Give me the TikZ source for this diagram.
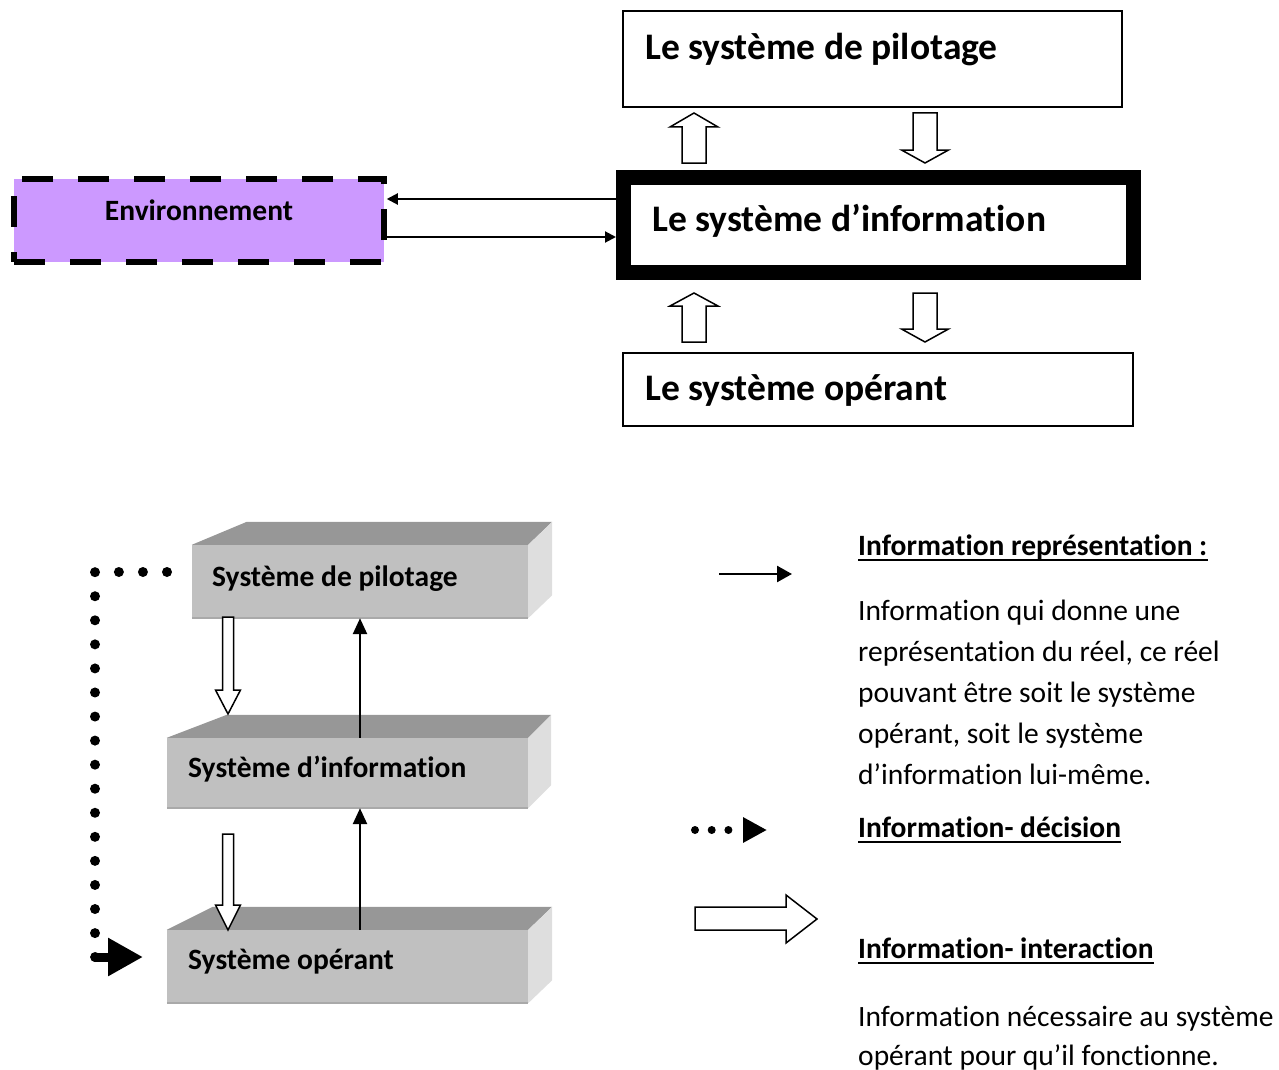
\documentclass[tikz,border=0pt]{standalone}
\usepackage{fontspec}
\setmainfont{Carlito}[Ligatures=NoCommon]
\usetikzlibrary{arrows.meta,calc}
\definecolor{envfill}{HTML}{CC99FF}
\definecolor{facefront}{HTML}{C0C0C0}
\definecolor{facetop}{HTML}{979797}
\definecolor{faceside}{HTML}{DEDEDE}
\definecolor{faceedge}{HTML}{A9A9A9}

% vertical block arrow: x, base y, head-base y, tip y, shaft half width, head half width
\newcommand\blockarrowv[6]{%
  \draw[hollow] ({#1-#5},#2) -- ({#1-#5},#3) -- ({#1-#6},#3) -- (#1,#4)
    -- ({#1+#6},#3) -- ({#1+#5},#3) -- ({#1+#5},#2) -- cycle;}

% top and right faces of a box whose front face is node #1
% #2 = left depth offset, #3 = right depth offset, #4 = rise
\newcommand\boxfaces[4]{%
  \fill[facetop] (#1.north west) -- ++(#2,-#4) -- ($(#1.north east)+(#3,-#4)$)
    -- (#1.north east) -- cycle;
  \fill[faceside] (#1.north east) -- ++(#3,-#4) -- ($(#1.south east)+(#3,-#4)$)
    -- (#1.south east) -- cycle;
  \draw[faceedge, line width=1.5pt] (#1.south west) -- (#1.south east);}

\begin{document}
\begin{tikzpicture}[x=1pt,y=-1pt,
  txt/.style={inner sep=0pt, anchor=base west},
  bigtxt/.style={txt, font=\bfseries\fontsize{37.5}{45}\selectfont},
  cubetxt/.style={txt, font=\bfseries\fontsize{29.5}{35}\selectfont},
  legtitle/.style={txt, font=\bfseries\fontsize{29.5}{35}\selectfont},
  legtxt/.style={txt, font=\fontsize{29.5}{35}\selectfont},
  sysbox/.style={draw, line width=1.5pt, fill=white, inner sep=0pt},
  frontface/.style={fill=facefront, inner sep=0pt},
  hollow/.style={draw, fill=white, line width=1.5pt, line join=miter},
  thinarrow/.style={line width=2pt, -{Triangle[length=11pt,width=11pt]}},
  cubearrow/.style={line width=2.5pt, -{Triangle[length=16pt,width=14pt]}},
  dotline/.style={line width=10pt, line cap=round, dash pattern=on 0pt off 24.06pt,
    -{Triangle[length=35pt,width=36pt]}},
]
\useasboundingbox (0,0) rectangle (1279,1070);

% ---------- upper diagram ----------
\node[sysbox, minimum width=499pt, minimum height=96pt] (pil) at (872.5,59) {};
\node[bigtxt] (pilt) at (645,60) {Le système de pilotage};

\node[draw, line width=15pt, fill=white, inner sep=0pt,
      minimum width=510pt, minimum height=95pt] (inf) at (878.5,225) {};
\node[bigtxt] (inft) at (652,231) {Le système d’information};

\node[sysbox, minimum width=510pt, minimum height=73pt] (ope) at (878,389.5) {};
\node[bigtxt] (opet) at (645,400) {Le système opérant};

\node[draw, line width=5.5pt, fill=envfill, dash pattern=on 31pt off 25pt,
      minimum width=370pt, minimum height=83pt, inner sep=0pt] (env) at (199,220.5) {};
\node[inner sep=0pt, anchor=base, font=\bfseries\fontsize{29.5}{35}\selectfont] (envt) at (199,220) {Environnement};

\coordinate (ya) at (0,199);
\coordinate (yb) at (0,237);
\draw[thinarrow] (inf.west |- ya) -- (env.east |- ya);
\draw[thinarrow] (env.east |- yb) -- (inf.west |- yb);

\blockarrowv{694}{163}{127}{113}{12}{24}
\blockarrowv{925}{113}{150}{163}{12}{23.5}
\blockarrowv{694}{342}{306}{293}{12}{24}
\blockarrowv{925}{293}{329}{342}{12}{23.5}

% ---------- stacked boxes ----------
\node[frontface, minimum width=336pt, minimum height=73pt] (bp) at (360,581.5) {};
\boxfaces{bp}{55}{24}{23}
\node[cubetxt] (bpt) at (212,586) {Système de pilotage};

\node[frontface, minimum width=361pt, minimum height=70pt] (bi) at (347.5,773) {};
\boxfaces{bi}{60}{23}{23}
\node[cubetxt] (bit) at (188,777) {Système d’information};

\node[frontface, minimum width=361pt, minimum height=73pt] (bo) at (347.5,966.5) {};
\boxfaces{bo}{46}{24}{23}
\node[cubetxt] (bot) at (188,969) {Système opérant};

\blockarrowv{228}{617}{690}{714}{5.5}{12.5}
\blockarrowv{228}{834}{905}{930}{5.5}{12.5}

\coordinate (ax) at (360,0);
\draw[cubearrow] (bi.north -| ax) -- (bp.south -| ax);
\draw[cubearrow] (bo.north -| ax) -- (bi.south -| ax);

\coordinate (d0) at (167,572);
\coordinate (d1) at (95,572);
\coordinate (d2) at (95,957);
\coordinate (d3) at (143,957);
\draw[dotline] (d0) -- (d1) -- (d2) -- (d3);
\draw[line width=9pt, line cap=round] (d2) -- ++(14,0);

% ---------- legend ----------
\coordinate (la0) at (719,574);
\coordinate (la1) at (792,574);
\draw[line width=2.5pt, -{Triangle[length=15pt,width=16pt]}] (la0) -- (la1);

\coordinate (lb0) at (695,830);
\coordinate (lb1) at (767,830);
\draw[line width=8pt, line cap=round, dash pattern=on 0pt off 16.7pt,
      -{Triangle[length=24pt,width=24pt]}] (lb0) -- (lb1);

\draw[hollow] (695,907) -- (786,907) -- (786,895) -- (817,919) -- (786,943)
  -- (786,930) -- (695,930) -- cycle;

\node[legtitle] (h1) at (858,555) {Information représentation :};
\draw[line width=2pt] ([yshift=-5pt]h1.base west) -- ([yshift=-5pt]h1.base east);
\node[legtxt] (p1) at (858,620) {Information qui donne une};
\node[legtxt] (p2) at (858,661) {représentation du réel, ce réel};
\node[legtxt] (p3) at (858,702) {pouvant être soit le système};
\node[legtxt] (p4) at (858,743) {opérant, soit le système};
\node[legtxt] (p5) at (858,784) {d’information lui-même.};

\node[legtitle] (h2) at (858,837) {Information- décision};
\draw[line width=2pt] ([yshift=-5pt]h2.base west) -- ([yshift=-5pt]h2.base east);

\node[legtitle] (h3) at (858,958) {Information- interaction};
\draw[line width=2pt] ([yshift=-5pt]h3.base west) -- ([yshift=-5pt]h3.base east);
\node[legtxt] (q1) at (858,1026) {Information nécessaire au système};
\node[legtxt] (q2) at (858,1065) {opérant pour qu’il fonctionne.};
\end{tikzpicture}
\end{document}
